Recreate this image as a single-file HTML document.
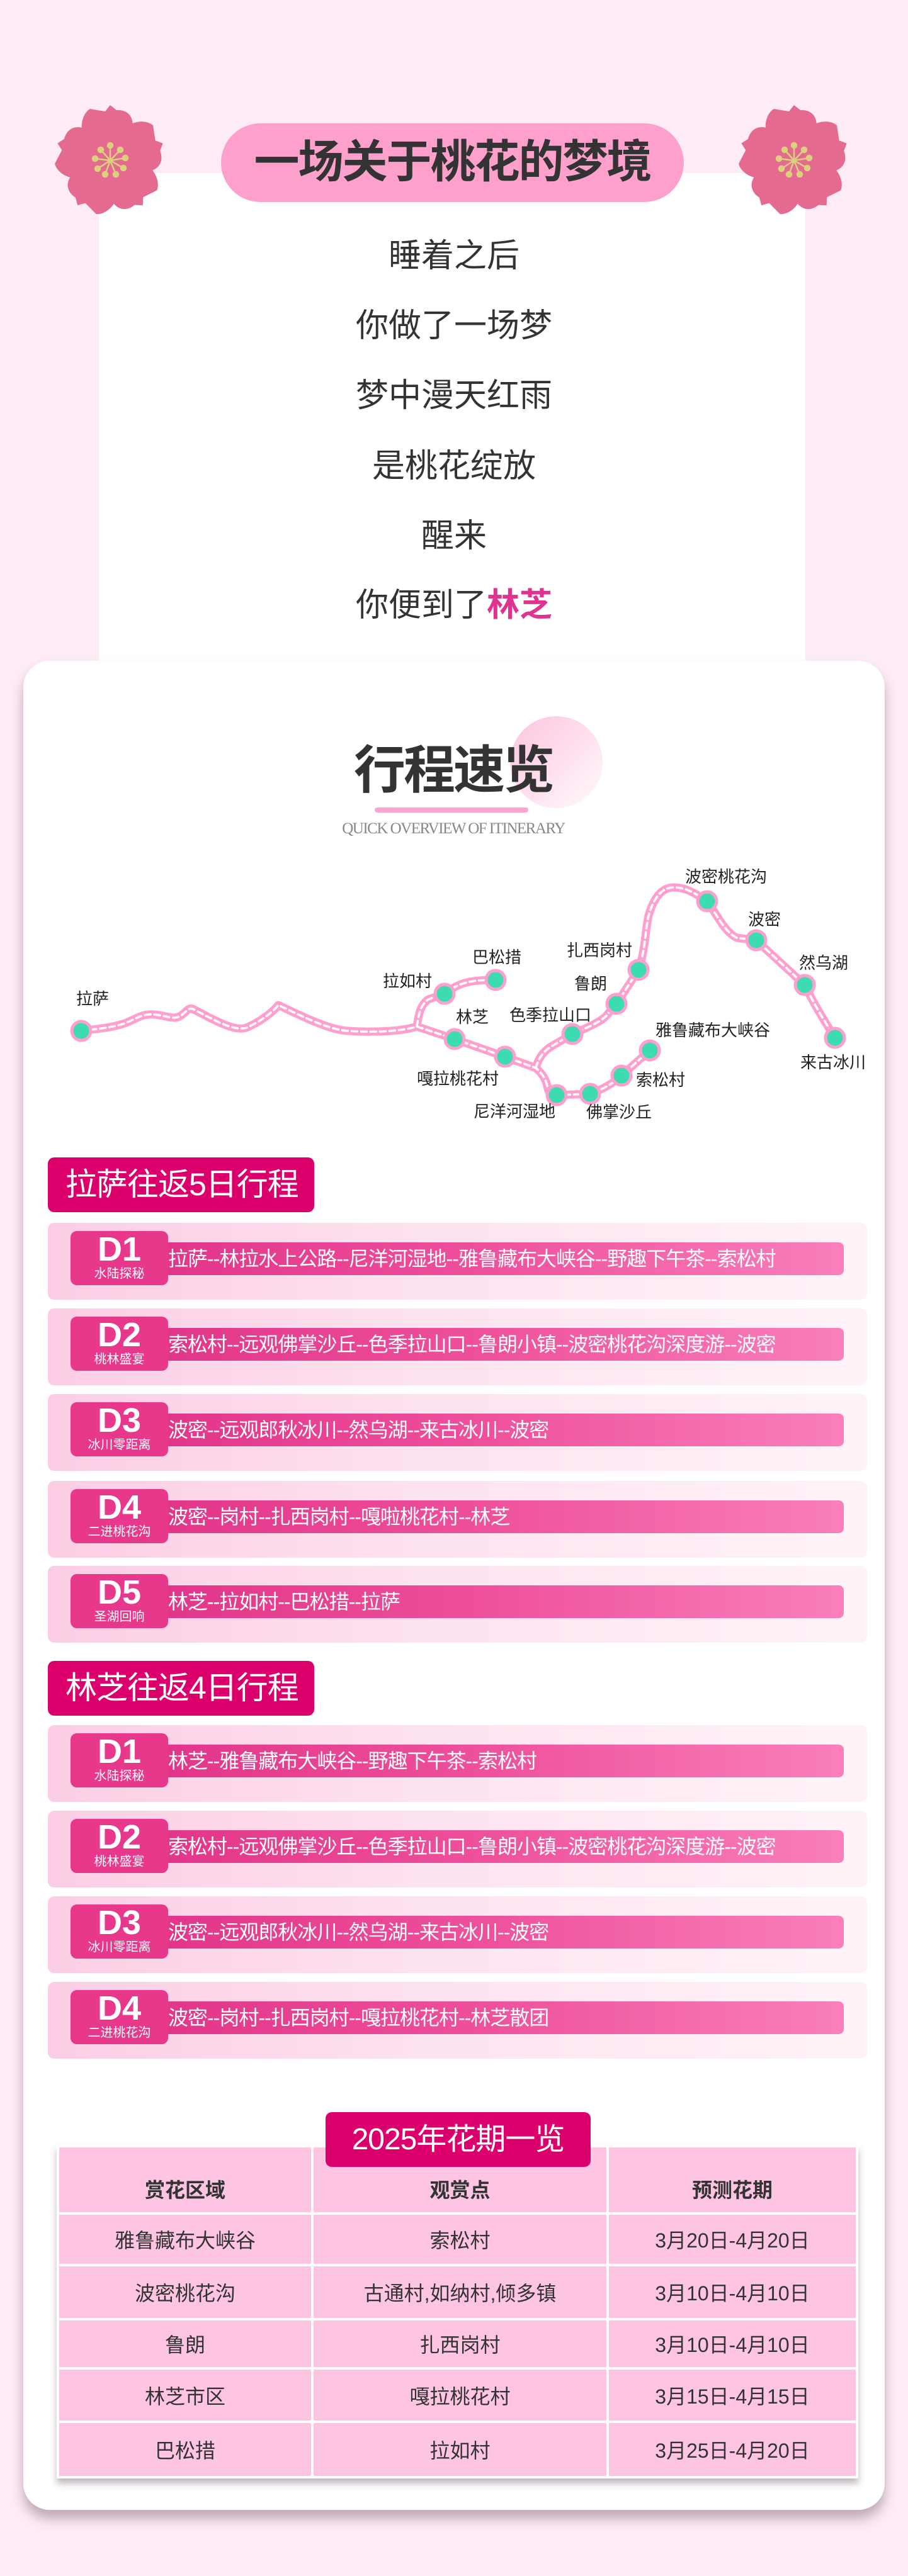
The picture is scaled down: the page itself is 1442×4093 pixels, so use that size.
<!DOCTYPE html>
<html><head><meta charset="utf-8">
<style>
*{margin:0;padding:0;box-sizing:border-box}
body{width:1442px;height:4093px;background:#fdebf5;position:relative;overflow:hidden;font-family:"Liberation Sans","Noto Sans CJK SC",sans-serif;color:#333}
.abs{position:absolute}
.poem{position:absolute;left:0;width:1442px;text-align:center;font-size:52px;line-height:60px;color:#333}
.card{position:absolute;left:37px;top:1050px;width:1368px;height:2938px;background:#fff;border-radius:42px;box-shadow:0 14px 18px rgba(120,90,110,.45)}
.sec{position:absolute;left:76px;width:423px;height:87px;background:#dc006c;border-radius:10px;color:#fff;font-size:50px;line-height:87px;padding-left:28px;letter-spacing:-1px}
.row{position:absolute;left:76px;width:1301px;height:122px;border-radius:10px;background:linear-gradient(90deg,#fccde4 0%,#fde2ef 45%,#fff3f9 100%)}
.badge{position:absolute;left:36px;top:13px;width:155px;height:86px;background:#e8388c;border-radius:10px;color:#fff;text-align:center}
.badge b{display:block;font-size:54px;line-height:52px;margin-top:3px;font-weight:bold}
.badge i{display:block;font-style:normal;font-size:20px;line-height:26px}
.bar{position:absolute;left:191px;top:31px;width:1073px;height:52px;border-radius:0 8px 8px 0;background:linear-gradient(90deg,#e2368a 0%,#ee4f9b 45%,#f97fbb 100%);color:#fff;font-size:32px;line-height:52px;white-space:nowrap;letter-spacing:-1px}
.lbl{font-size:26px;fill:#222}
table{position:absolute;left:90px;top:3408px;width:1273px;border-collapse:collapse;box-shadow:0 8px 10px rgba(120,90,110,.45)}
td{background:#fdc5e2;border:4px solid #fff;text-align:center;font-size:32px;color:#333}
</style></head><body>

<div class="abs" style="left:157px;top:275px;width:1122px;height:800px;background:#fff"></div>
<div class="abs" style="left:351px;top:196px;width:735px;height:125px;background:#fea0cc;border-radius:63px;text-align:center;font-size:72px;line-height:125px;font-weight:bold;color:#333;letter-spacing:-2px">一场关于桃花的梦境</div>

<svg class="abs" style="left:0;top:0" width="1442" height="420">
<defs>
<g id="fl">
<g fill="#e46a90">
<path id="pt" d="M0,0 C-55,-20 -52,-70 -32,-82 L-8,-78 L0,-88 L10,-80 C40,-82 52,-45 0,0Z"/>
<use href="#pt" transform="rotate(72)"/><use href="#pt" transform="rotate(144)"/><use href="#pt" transform="rotate(216)"/><use href="#pt" transform="rotate(288)"/>
<circle r="45"/>
</g>
<g stroke="#dccf7e" stroke-width="2.5" fill="#dccf7e">
<line x1="0" y1="0" x2="0" y2="-24"/><line x1="0" y1="0" x2="16" y2="-17"/><line x1="0" y1="0" x2="24" y2="-4"/><line x1="0" y1="0" x2="21" y2="12"/><line x1="0" y1="0" x2="9" y2="22"/><line x1="0" y1="0" x2="-8" y2="22"/><line x1="0" y1="0" x2="-20" y2="13"/><line x1="0" y1="0" x2="-24" y2="-3"/><line x1="0" y1="0" x2="-15" y2="-17"/>
<circle cx="0" cy="-24" r="4"/><circle cx="16" cy="-17" r="4"/><circle cx="24" cy="-4" r="4"/><circle cx="21" cy="12" r="4"/><circle cx="9" cy="22" r="4"/><circle cx="-8" cy="22" r="4"/><circle cx="-20" cy="13" r="4"/><circle cx="-24" cy="-3" r="4"/><circle cx="-15" cy="-17" r="4"/>
</g>
</g>
</defs>
<use href="#fl" transform="translate(175,255)"/>
<use href="#fl" transform="translate(1261,255)"/>
</svg>

<div class="poem" style="top:377px">睡着之后</div>
<div class="poem" style="top:488px">你做了一场梦</div>
<div class="poem" style="top:599px">梦中漫天红雨</div>
<div class="poem" style="top:711px">是桃花绽放</div>
<div class="poem" style="top:822px">醒来</div>
<div class="poem" style="top:932px">你便到了<b style="color:#e0338f">林芝</b></div>

<div class="card"></div>

<div class="abs" style="left:810px;top:1138px;width:147px;height:146px;border-radius:50%;background:linear-gradient(135deg,#fcc3df,#fff0f7 80%)"></div>
<div class="abs" style="left:520px;top:1175px;width:400px;text-align:center;font-size:82px;line-height:100px;font-weight:bold;color:#333;letter-spacing:-3px">行程速览</div>
<div class="abs" style="left:595px;top:1283px;width:244px;height:8px;border-radius:4px;background:#fba6cf"></div>
<div class="abs" style="left:480px;top:1302px;width:480px;text-align:center;font-family:'Liberation Serif',serif;font-size:25px;line-height:30px;color:#888;letter-spacing:-1.5px">QUICK OVERVIEW OF ITINERARY</div>

<svg class="abs" style="left:0;top:1350px" width="1442" height="450" viewBox="0 1350 1442 450">
<g fill="none" stroke-linecap="round" stroke-linejoin="round">
<g stroke="#ff9fcf" stroke-width="13">
<path id="p1" d="M129,1638 C160,1634 175,1633 195,1627 C215,1620 225,1610 245,1612 C265,1614 275,1620 285,1615 C295,1610 298,1600 306,1603 C330,1615 370,1640 391,1633 C410,1625 432,1610 442,1597 C470,1610 520,1636 552,1638 C600,1641 640,1638 662,1631 L722,1651 L802,1679 L851,1697 C866,1710 868,1720 870,1730 C872,1738 876,1740 884,1740 L937,1738 C960,1730 975,1720 987,1709 L1032,1669"/>
<path id="p2" d="M851,1697 C855,1680 865,1668 880,1660 L909,1643 C940,1630 960,1620 966,1610 L979,1595 L1014,1541 C1025,1510 1025,1475 1030,1455 C1040,1420 1055,1410 1070,1410 C1090,1410 1105,1420 1123,1432 C1140,1455 1150,1480 1170,1490 L1201,1494 L1278,1565 C1300,1610 1315,1630 1326,1649"/>
<path id="p3" d="M662,1631 C665,1610 668,1597 680,1588 L706,1579 C730,1560 750,1557 787,1557"/>
</g>
<g stroke="#fff" stroke-width="3.5" stroke-dasharray="9 6">
<use href="#p1"/><use href="#p2"/><use href="#p3"/>
</g>
</g>
<g fill="#3ddcb0" stroke="#ff9fcf" stroke-width="5">
<circle cx="129" cy="1638" r="15"/><circle cx="706" cy="1579" r="15"/><circle cx="787" cy="1557" r="15"/>
<circle cx="722" cy="1651" r="15"/><circle cx="802" cy="1679" r="15"/><circle cx="884" cy="1740" r="15"/>
<circle cx="937" cy="1738" r="15"/><circle cx="987" cy="1709" r="15"/><circle cx="1032" cy="1669" r="15"/>
<circle cx="909" cy="1643" r="15"/><circle cx="979" cy="1595" r="15"/><circle cx="1014" cy="1541" r="15"/>
<circle cx="1123" cy="1432" r="15"/><circle cx="1201" cy="1494" r="15"/><circle cx="1278" cy="1565" r="15"/>
<circle cx="1326" cy="1649" r="15"/>
</g>
<g class="lbl" text-anchor="middle" font-family="Liberation Sans, Noto Sans CJK SC, sans-serif">
<text x="147" y="1596" font-size="26">拉萨</text>
<text x="647" y="1568" font-size="26">拉如村</text>
<text x="789" y="1530" font-size="26">巴松措</text>
<text x="750" y="1625" font-size="26">林芝</text>
<text x="874" y="1622" font-size="26">色季拉山口</text>
<text x="938" y="1572" font-size="26">鲁朗</text>
<text x="952" y="1519" font-size="26">扎西岗村</text>
<text x="1153" y="1402" font-size="26">波密桃花沟</text>
<text x="1214" y="1470" font-size="26">波密</text>
<text x="1308" y="1539" font-size="26">然乌湖</text>
<text x="1323" y="1697" font-size="26">来古冰川</text>
<text x="1132" y="1646" font-size="26">雅鲁藏布大峡谷</text>
<text x="1049" y="1725" font-size="26">索松村</text>
<text x="983" y="1776" font-size="26">佛掌沙丘</text>
<text x="817" y="1775" font-size="26">尼洋河湿地</text>
<text x="727" y="1723" font-size="26">嘎拉桃花村</text>
</g>
</svg>

<div class="sec" style="top:1839px">拉萨往返5日行程</div>
<div class="row" style="top:1943px"><div class="badge"><b>D1</b><i>水陆探秘</i></div><div class="bar">拉萨--林拉水上公路--尼洋河湿地--雅鲁藏布大峡谷--野趣下午茶--索松村</div></div>
<div class="row" style="top:2079px"><div class="badge"><b>D2</b><i>桃林盛宴</i></div><div class="bar">索松村--远观佛掌沙丘--色季拉山口--鲁朗小镇--波密桃花沟深度游--波密</div></div>
<div class="row" style="top:2215px"><div class="badge"><b>D3</b><i>冰川零距离</i></div><div class="bar">波密--远观郎秋冰川--然乌湖--来古冰川--波密</div></div>
<div class="row" style="top:2353px"><div class="badge"><b>D4</b><i>二进桃花沟</i></div><div class="bar">波密--岗村--扎西岗村--嘎啦桃花村--林芝</div></div>
<div class="row" style="top:2488px"><div class="badge"><b>D5</b><i>圣湖回响</i></div><div class="bar">林芝--拉如村--巴松措--拉萨</div></div>

<div class="sec" style="top:2639px">林芝往返4日行程</div>
<div class="row" style="top:2741px"><div class="badge"><b>D1</b><i>水陆探秘</i></div><div class="bar">林芝--雅鲁藏布大峡谷--野趣下午茶--索松村</div></div>
<div class="row" style="top:2877px"><div class="badge"><b>D2</b><i>桃林盛宴</i></div><div class="bar">索松村--远观佛掌沙丘--色季拉山口--鲁朗小镇--波密桃花沟深度游--波密</div></div>
<div class="row" style="top:3013px"><div class="badge"><b>D3</b><i>冰川零距离</i></div><div class="bar">波密--远观郎秋冰川--然乌湖--来古冰川--波密</div></div>
<div class="row" style="top:3149px"><div class="badge"><b>D4</b><i>二进桃花沟</i></div><div class="bar">波密--岗村--扎西岗村--嘎拉桃花村--林芝散团</div></div>

<table>
<tr style="height:107px"><td style="width:404px;font-weight:bold;padding-top:28px">赏花区域</td><td style="width:469px;font-weight:bold;padding-top:28px">观赏点</td><td style="font-weight:bold;padding-top:28px">预测花期</td></tr>
<tr style="height:82px"><td>雅鲁藏布大峡谷</td><td>索松村</td><td>3月20日-4月20日</td></tr>
<tr style="height:86px"><td>波密桃花沟</td><td>古通村,如纳村,倾多镇</td><td>3月10日-4月10日</td></tr>
<tr style="height:78px"><td>鲁朗</td><td>扎西岗村</td><td>3月10日-4月10日</td></tr>
<tr style="height:85px"><td>林芝市区</td><td>嘎拉桃花村</td><td>3月15日-4月15日</td></tr>
<tr style="height:88px"><td>巴松措</td><td>拉如村</td><td>3月25日-4月20日</td></tr>
</table>
<div class="abs" style="left:517px;top:3356px;width:421px;height:87px;background:#dc006c;border-radius:10px;color:#fff;font-size:48px;line-height:87px;text-align:center;letter-spacing:-1px">2025年花期一览</div>

</body></html>
